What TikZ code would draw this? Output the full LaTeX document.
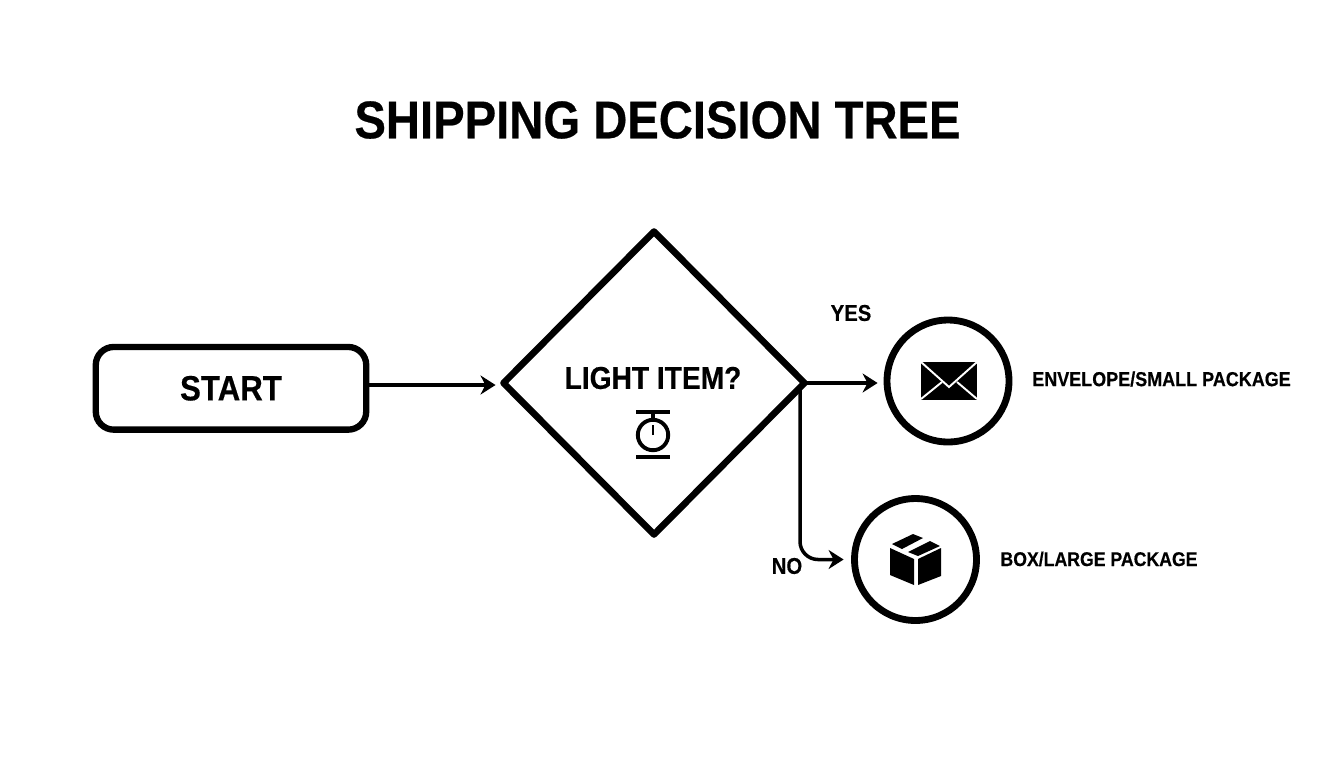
\documentclass[tikz,border=0pt]{standalone}
\usepackage{fontspec}
\setmainfont{Liberation Sans}[BoldFeatures={FakeStretch=0.89,FakeBold=0.4}]
\usetikzlibrary{arrows.meta,shapes.geometric}
\begin{document}
\begin{tikzpicture}[
  x=0.02cm, y=-0.02cm,
  startbox/.style={rectangle, draw, line width=3.6pt, rounded corners=0.36cm, minimum width=5.41cm, minimum height=1.654cm, inner sep=0pt, outer sep=0pt, font=\bfseries\fontsize{20}{24}\selectfont},
  decision/.style={diamond, draw, line width=3.8pt, line join=round, minimum width=6.02cm, minimum height=6.06cm, aspect=1, inner sep=0pt, outer sep=0pt},
  leaf/.style={circle, draw, line width=3.9pt, minimum size=2.44cm, inner sep=0pt, outer sep=1.95pt},
  flow/.style={-{Stealth[length=0.3cm, width=0.38cm]}, line width=2pt},
  asktext/.style={font=\bfseries\fontsize{18}{22}\selectfont, inner sep=0pt},
  branchtext/.style={font=\bfseries\fontsize{13}{16}\selectfont, inner sep=0pt},
  leaftext/.style={font=\bfseries\fontsize{11.5}{14}\selectfont, inner sep=0pt},
  iconfill/.style={fill=black, draw=none},
  iconline/.style={draw=black, line width=2.2pt},
  iconcut/.style={draw=white, line width=1.1pt}
]
\useasboundingbox (0,0) rectangle (1344,768);
\node[font=\bfseries\fontsize{30.2}{36}\selectfont, inner sep=0pt] (title) at (657.5,120) {SHIPPING DECISION TREE};

\node[startbox] (start) at (231,388.3) {START};
\node[decision] (light) at (654,383) {};
\node[asktext] (ask) at (653,378) {LIGHT ITEM?};
\node[leaf] (envelope) at (948,381) {};
\node[leaf] (parcel) at (915.5,559.5) {};
\node[leaftext] (envlabel) at (1161.5,379) {ENVELOPE/SMALL PACKAGE};
\node[leaftext, font=\bfseries\fontsize{11.3}{14}\selectfont] (parcellabel) at (1099,559) {BOX/LARGE PACKAGE};
\node[branchtext] (yes) at (851,313) {YES};
\node[branchtext] (no) at (787,566) {NO};
\coordinate (nobranch) at (800,388);

\draw[flow, shorten >=0.16cm] ([yshift=0.066cm]start.east) -- ([yshift=0.066cm]start.east -| light.west);
\draw[flow, shorten >=0.12cm] (light.east) -- (envelope.west |- light.east);
\draw[flow, shorten >=0.15cm, rounded corners=0.36cm] (nobranch) |- (parcel.west);

\draw[line width=2.4pt] (636,412) -- (670,412);
\draw[line width=2.4pt] (636,457) -- (670,457);
\draw[iconline] (653,412) -- (653,418);
\draw[iconline] (653,435) circle (15.2);
\draw[iconline, line width=1.6pt] (653,435) -- (653,425);

\path[iconfill] (921,362) rectangle (977,400);
\draw[iconcut] (921,362) -- (949,387) -- (977,362);
\draw[iconcut] (921,399) -- (942,382);
\draw[iconcut] (977,399) -- (957,382);

\path[iconfill] (890,548) -- (914,559) -- (914,585) -- (890,575) -- cycle;
\path[iconfill] (918,559) -- (941,548) -- (941,576) -- (918,585) -- cycle;
\path[iconfill] (892,544) -- (913,534) -- (923,538) -- (902,549) -- cycle;
\path[iconfill] (908,552) -- (930,541) -- (940,546) -- (918,556) -- cycle;
\end{tikzpicture}
\end{document}
